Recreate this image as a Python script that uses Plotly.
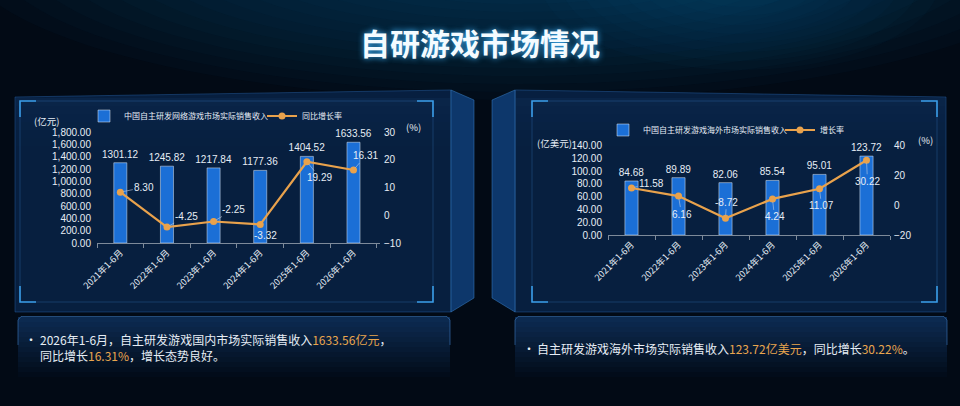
import plotly.graph_objects as go

# ---------------- data ----------------
categories = ["2021年1-6月", "2022年1-6月", "2023年1-6月", "2024年1-6月", "2025年1-6月", "2026年1-6月"]
domestic_revenue = [1301.12, 1245.82, 1217.84, 1177.36, 1404.52, 1633.56]
domestic_growth = [8.30, -4.25, -2.25, -3.32, 19.29, 16.31]
overseas_revenue = [84.68, 89.89, 82.06, 85.54, 95.01, 123.72]
overseas_growth = [11.58, 6.16, -8.72, 4.24, 11.07, 30.22]

domestic_bar_name = "中国自主研发网络游戏市场实际销售收入"
domestic_line_name = "同比增长率"
overseas_bar_name = "中国自主研发游戏海外市场实际销售收入"
overseas_line_name = "增长率"

title_text = "自研游戏市场情况"
HL = "#e9a64e"
left_note = (f"2026年1-6月，自主研发游戏国内市场实际销售收入<span style='color:{HL}'>1633.56亿元</span>，"
             f"<br>同比增长<span style='color:{HL}'>16.31%</span>，增长态势良好。")
right_note = (f"自主研发游戏海外市场实际销售收入<span style='color:{HL}'>123.72亿美元</span>，"
              f"同比增长<span style='color:{HL}'>30.22%</span>。")

# ---------------- styling ----------------
W, H = 960, 406
FONT = "Noto Sans CJK SC, Noto Sans, sans-serif"
NUMFONT = "Liberation Sans, Arial, sans-serif"
BAR = "#1b6fd6"
LINE = "#e9a24c"
TXT = "#e6edf5"

# label offsets (pixels) for growth labels
dom_off = [(24, -5), (20, -11), (20, -12), (5, 11), (13, 16), (12, -14)]
ovs_off = [(20, -5), (3, 18), (1, -16), (2, 18), (2, 17), (1, 21)]


def X(p):
    return p / W


def Y(p):
    return 1 - p / H


fig = go.Figure()

# ---------- traces ----------
fig.add_trace(go.Bar(x=categories, y=domestic_revenue, name=domestic_bar_name,
                     marker_color=BAR, width=0.28, texttemplate="%{y:.2f}",
                     textposition="outside", cliponaxis=False, constraintext="none",
                     textfont=dict(color=TXT, size=10, family=NUMFONT), xaxis="x", yaxis="y",
                     legend="legend"))
fig.add_trace(go.Scatter(x=categories, y=domestic_growth, name=domestic_line_name,
                         mode="lines+markers", line=dict(color=LINE, width=2.2),
                         marker=dict(color=LINE, size=7), xaxis="x", yaxis="y2",
                         legend="legend2", cliponaxis=False))
fig.add_trace(go.Bar(x=categories, y=overseas_revenue, name=overseas_bar_name,
                     marker_color=BAR, width=0.28, texttemplate="%{y:.2f}",
                     textposition="outside", cliponaxis=False, constraintext="none",
                     textfont=dict(color=TXT, size=10, family=NUMFONT), xaxis="x2", yaxis="y3",
                     legend="legend3"))
fig.add_trace(go.Scatter(x=categories, y=overseas_growth, name=overseas_line_name,
                         mode="lines+markers", line=dict(color=LINE, width=2.2),
                         marker=dict(color=LINE, size=7), xaxis="x2", yaxis="y4",
                         legend="legend4", cliponaxis=False))

# ---------- shapes (decoration) ----------
shapes = []
# background glow
n_g = 14
for i in range(n_g):
    rx = 560 - i * 30
    ry = 150 - i * 8
    shapes.append(dict(type="circle", xref="paper", yref="paper",
                       x0=X(520 - rx), x1=X(520 + rx), y0=Y(-50 + ry), y1=Y(-50 - ry),
                       fillcolor="rgba(20,85,130,0.045)", line_width=0, layer="below"))
for i in range(8):
    r = 200 - i * 20
    shapes.append(dict(type="circle", xref="paper", yref="paper",
                       x0=X(740 - r), x1=X(740 + r), y0=Y(-20 + r * 0.45), y1=Y(-20 - r * 0.45),
                       fillcolor="rgba(30,110,160,0.04)", line_width=0, layer="below"))


def path(points):
    return "M " + " L ".join(f"{X(a):.5f},{Y(b):.5f}" for a, b in points) + " Z"


def open_path(points):
    return "M " + " L ".join(f"{X(a):.5f},{Y(b):.5f}" for a, b in points)


# panels front faces
shapes.append(dict(type="path", xref="paper", yref="paper",
                   path=path([(15, 97), (451, 90), (451, 312), (15, 312)]),
                   fillcolor="rgba(9,36,74,0.8)", line=dict(color="rgba(40,100,170,0.45)", width=1), layer="below"))
shapes.append(dict(type="path", xref="paper", yref="paper",
                   path=path([(515, 90), (946, 97), (946, 312), (515, 312)]),
                   fillcolor="rgba(9,36,74,0.8)", line=dict(color="rgba(40,100,170,0.45)", width=1), layer="below"))
# side faces
shapes.append(dict(type="path", xref="paper", yref="paper",
                   path=path([(451, 90), (474, 100), (474, 298), (451, 312)]),
                   fillcolor="rgba(14,58,112,0.95)", line=dict(color="rgba(60,130,200,0.5)", width=1), layer="below"))
shapes.append(dict(type="path", xref="paper", yref="paper",
                   path=path([(492, 100), (515, 90), (515, 312), (492, 298)]),
                   fillcolor="rgba(14,58,112,0.95)", line=dict(color="rgba(60,130,200,0.5)", width=1), layer="below"))
# panel top glow strips
for i in range(6):
    for (a, b) in [(16, 450), (516, 945)]:
        shapes.append(dict(type="rect", xref="paper", yref="paper",
                           x0=X(a), x1=X(b), y0=Y(98 + i * 8), y1=Y(98 + (i + 1) * 8),
                           fillcolor=f"rgba(30,80,140,{0.12 - i * 0.02:.3f})", line_width=0, layer="below"))

# inner frames
for (x0, x1) in [(20, 433), (532, 937)]:
    shapes.append(dict(type="rect", xref="paper", yref="paper",
                       x0=X(x0), x1=X(x1), y0=Y(101), y1=Y(302),
                       line=dict(color="rgba(60,130,200,0.3)", width=1), fillcolor="rgba(0,0,0,0)", layer="below"))
    L = 16
    for (cx, cy, dx, dy) in [(x0, 101, 1, 1), (x1, 101, -1, 1), (x0, 302, 1, -1), (x1, 302, -1, -1)]:
        shapes.append(dict(type="path", xref="paper", yref="paper",
                           path=open_path([(cx, cy + dy * L), (cx, cy), (cx + dx * L, cy)]),
                           line=dict(color="#3a9ce6", width=1.6), layer="below"))

# text boxes with gradient
for (x0, x1) in [(18, 450), (515, 947)]:
    n = 12
    for i in range(n):
        a = 0.55 * (1 - i / n)
        shapes.append(dict(type="rect", xref="paper", yref="paper",
                           x0=X(x0), x1=X(x1), y0=Y(317 + i * 5), y1=Y(317 + (i + 1) * 5),
                           fillcolor=f"rgba(22,70,130,{a:.3f})", line_width=0, layer="below"))
    shapes.append(dict(type="path", xref="paper", yref="paper",
                       path=open_path([(x0, 345), (x0, 320), (x0 + 3, 316.5), (x1 - 3, 316.5), (x1, 320), (x1, 345)]),
                       line=dict(color="rgba(60,120,190,0.6)", width=1), layer="below"))

# ---------- annotations ----------
ann = []


def txt(t, x, y, size, xanchor="center", color=TXT, family=FONT, **kw):
    ann.append(dict(text=t, x=X(x), y=Y(y), xref="paper", yref="paper", showarrow=False,
                    xanchor=xanchor, yanchor="middle", align="left",
                    font=dict(size=size, color=color, family=family, **kw)))


txt(f"<b>{title_text}</b>", 480, 42, 30, color="#f4fbff", shadow="0px 0px 6px #3fb6ff")
# axis unit labels
txt("(亿元)", 46, 121, 9.5)
txt("(%)", 413, 127, 9.5)
txt("(亿美元)", 554, 143, 9.5)
txt("(%)", 925, 140, 9.5)
# notes
txt("·", 31, 339, 12)
txt(left_note, 38, 347, 12, xanchor="left")
txt("·", 529, 348, 12)
txt(right_note, 535, 348, 12, xanchor="left")

# growth labels with leader lines
for cat, v, (ox, oy) in zip(categories, domestic_growth, dom_off):
    ann.append(dict(x=cat, y=v, xref="x", yref="y2", text=f"{v:.2f}", showarrow=True,
                    arrowhead=0, arrowwidth=0.8, arrowcolor="rgba(200,210,225,0.7)",
                    ax=ox, ay=oy, standoff=3, font=dict(size=10, color=TXT, family=NUMFONT)))
for cat, v, (ox, oy) in zip(categories, overseas_growth, ovs_off):
    ann.append(dict(x=cat, y=v, xref="x2", yref="y4", text=f"{v:.2f}", showarrow=True,
                    arrowhead=0, arrowwidth=0.8, arrowcolor="rgba(200,210,225,0.7)",
                    ax=ox, ay=oy, standoff=3, font=dict(size=10, color=TXT, family=NUMFONT)))

axis_common = dict(showgrid=False, zeroline=False, automargin=False,
                   tickfont=dict(size=10, color=TXT, family=NUMFONT))
xaxis_common = dict(showgrid=False, zeroline=False, showline=True, linecolor="#7d8a9a", linewidth=1,
                    ticks="outside", tickson="boundaries", ticklen=4, tickcolor="#7d8a9a",
                    automargin=False, tickangle=-45, tickfont=dict(size=9, color=TXT, family=FONT))


def leg(x, y):
    return dict(orientation="h", x=X(x), y=Y(y), xanchor="left", yanchor="middle",
                bgcolor="rgba(0,0,0,0)", font=dict(size=8, color=TXT, family=FONT),
                itemwidth=30, tracegroupgap=0)


fig.update_layout(
    width=W, height=H, margin=dict(l=0, r=0, t=0, b=0, autoexpand=False),
    paper_bgcolor="#020a15", plot_bgcolor="rgba(0,0,0,0)",
    font=dict(family=FONT, color=TXT),
    barmode="overlay",
    xaxis=dict(domain=[X(97), X(380)], anchor="y", **xaxis_common),
    yaxis=dict(domain=[Y(243), Y(132)], range=[0, 1800], dtick=200, tickformat=",.2f",
               anchor="x", ticklabelstandoff=5, **axis_common),
    yaxis2=dict(overlaying="y", side="right", range=[-10, 30], dtick=10, anchor="x",
                ticklabelstandoff=3, **axis_common),
    xaxis2=dict(domain=[X(608), X(890)], anchor="y3", **xaxis_common),
    yaxis3=dict(domain=[Y(235), Y(145.7)], range=[0, 140], dtick=20, tickformat=".2f",
                anchor="x2", ticklabelstandoff=5, **axis_common),
    yaxis4=dict(overlaying="y3", side="right", range=[-20, 40], dtick=20, anchor="x2",
                ticklabelstandoff=3, **axis_common),
    legend=leg(84, 116),
    legend2=leg(262, 116),
    legend3=leg(603, 130),
    legend4=leg(780, 130),
    shapes=shapes, annotations=ann, showlegend=True,
)

fig.write_html("out.html", config={"displayModeBar": False},
               post_script="document.body.style.margin='0';document.body.style.overflow='hidden';")
